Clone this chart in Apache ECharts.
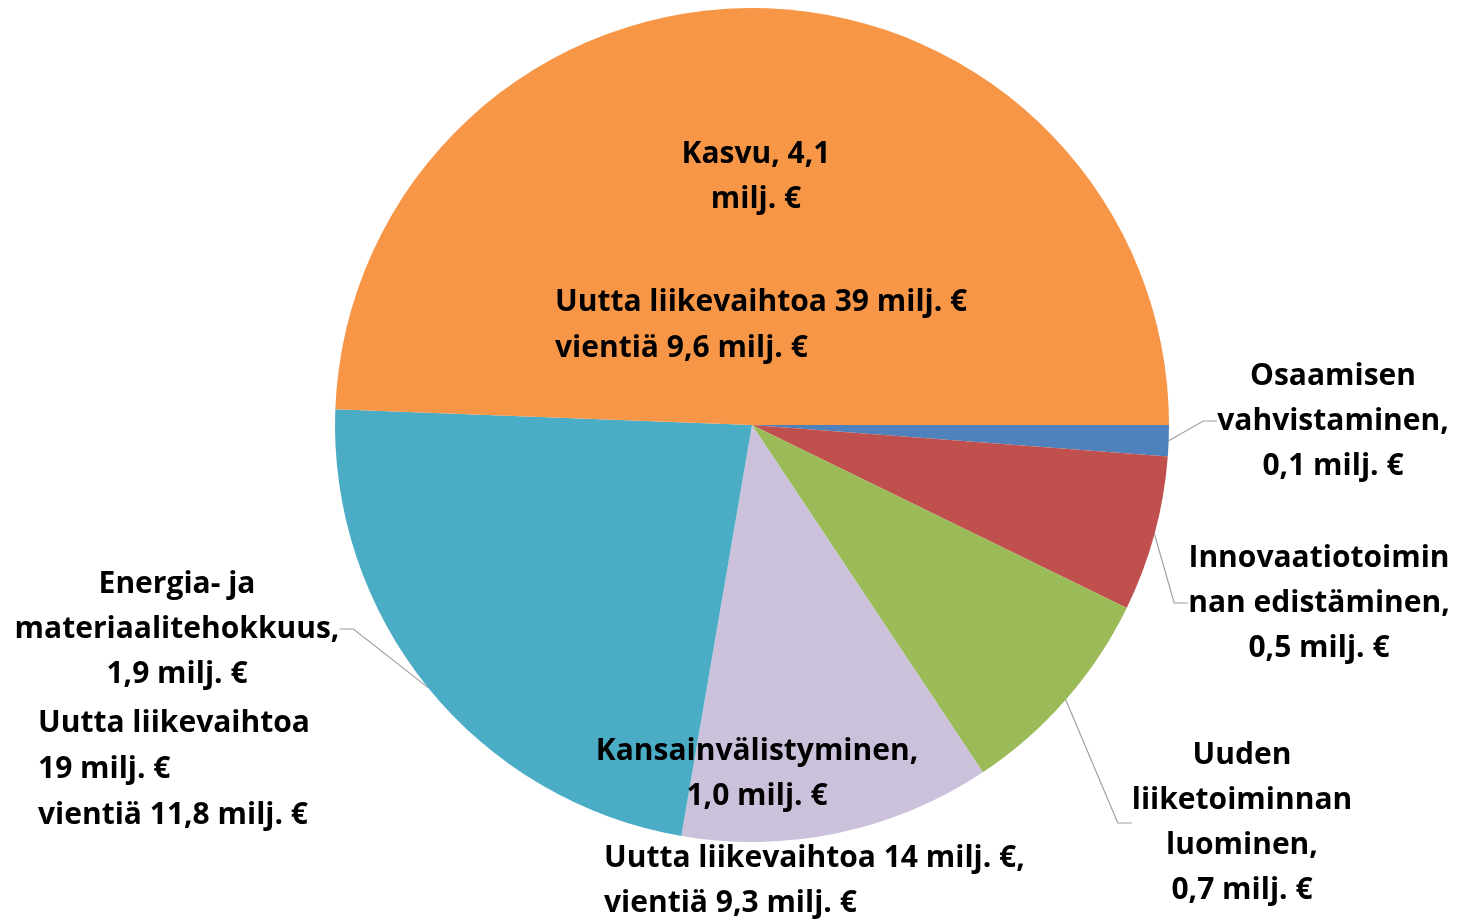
<!DOCTYPE html>
<html>
<head>
<meta charset="utf-8">
<script src="https://cdn.jsdelivr.net/npm/echarts@6/dist/echarts.min.js"></script>
<style>
html,body{margin:0;padding:0;background:#fff;}
#chart{width:1458px;height:921px;}
</style>
</head>
<body>
<div id="chart"></div>
<script>
// Data
const categories = [
  'Osaamisen\nvahvistaminen',
  'Innovaatiotoimin\nnan edistäminen',
  'Uuden\nliiketoiminnan\nluominen',
  'Kansainvälistyminen',
  'Energia- ja\nmateriaalitehokkuus',
  'Kasvu'
];
const values = [0.1, 0.5, 0.7, 1.0, 1.9, 4.1];
const colors = ['#4F81BD', '#C0504D', '#9BBB59', '#CCC1DA', '#4BACC6', '#F79646'];
const valueOnNameLine = [false, false, false, false, false, true];
const insideLabel = [false, false, false, true, false, true];
const annotations = [
  'Uutta liikevaihtoa 39 milj. €\nvientiä 9,6 milj. €',
  'Uutta liikevaihtoa\n19 milj. €\nvientiä 11,8 milj. €',
  'Uutta liikevaihtoa 14 milj. €,\nvientiä 9,3 milj. €'
];

const FONT = '"Open Sans"';
const FS = 30;
const LH = 45;

// label centre positions (text placement)
const labelPos = [
  [1333, 421],
  [1319, 603],
  [1242, 823],
  [757, 774],
  [177, 629],
  [756, 177]
];

function fmt(v) { return v.toFixed(1).replace('.', ',') + ' milj. €'; }

const chart = echarts.init(document.getElementById('chart'));
const option = {
  backgroundColor: '#fff',
  animation: false,
  series: [{
    type: 'pie',
    center: [752, 425],
    radius: 417,
    startAngle: 0,
    clockwise: true,
    avoidLabelOverlap: false,
    data: values.map((v, i) => ({
      name: categories[i],
      value: v,
      itemStyle: { color: colors[i] },
      label: { position: insideLabel[i] ? 'inside' : 'outside' },
      labelLine: { show: !insideLabel[i] }
    })),
    itemStyle: { borderWidth: 0 },
    label: {
      show: true,
      color: '#000',
      fontFamily: FONT,
      fontWeight: 'bold',
      fontSize: FS,
      lineHeight: LH,
      align: 'center',
      formatter: p => valueOnNameLine[p.dataIndex]
        ? p.name + ', ' + p.value.toFixed(1).replace('.', ',') + '\nmilj. €'
        : p.name + ',\n' + fmt(p.value)
    },
    labelLine: {
      show: true,
      length: 10,
      length2: 14,
      smooth: false,
      lineStyle: { color: '#A0A0A0', width: 1.2 }
    },
    labelLayout: p => ({
      x: labelPos[p.dataIndex][0],
      y: labelPos[p.dataIndex][1],
      align: 'center',
      verticalAlign: 'middle'
    }),
    emphasis: { disabled: true }
  }],
  graphic: [
    { type: 'text', z: 100, left: 555, top: 279, style: { text: annotations[0], font: 'bold ' + FS + 'px ' + FONT, fill: '#000', lineHeight: LH + 1 } },
    { type: 'text', z: 100, left: 38, top: 700, style: { text: annotations[1], font: 'bold ' + FS + 'px ' + FONT, fill: '#000', lineHeight: LH + 1 } },
    { type: 'text', z: 100, left: 604, top: 836, style: { text: annotations[2], font: 'bold ' + FS + 'px ' + FONT, fill: '#000', lineHeight: LH } }
  ]
};
chart.setOption(option);
</script>
</body>
</html>
